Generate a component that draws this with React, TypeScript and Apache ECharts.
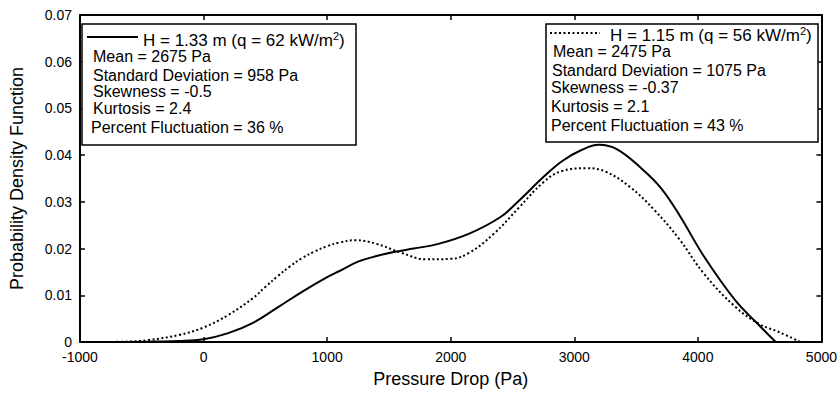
import React, { useEffect, useRef } from "react";
import * as echarts from "echarts";

// H = 1.33 m (solid)
const solidX = [-600, -400, -200, 0, 200, 400, 600, 800, 1000, 1100, 1250, 1400, 1550, 1700, 1900, 2150, 2400, 2550, 2750, 2900, 3050, 3200, 3350, 3550, 3700, 3850, 4050, 4300, 4480, 4630];
const solidY = [0, 0.0001, 0.0002, 0.0006, 0.0019, 0.0041, 0.0074, 0.0108, 0.0139, 0.0152, 0.0172, 0.0184, 0.0193, 0.02, 0.021, 0.0232, 0.0267, 0.0302, 0.0353, 0.0387, 0.041, 0.0422, 0.0412, 0.037, 0.033, 0.0272, 0.0183, 0.009, 0.004, 0];

// H = 1.15 m (dotted)
const dottedX = [-850, -600, -450, -200, 0, 200, 400, 500, 600, 700, 800, 900, 1000, 1100, 1230, 1400, 1600, 1800, 2000, 2150, 2350, 2550, 2750, 2900, 3100, 3250, 3450, 3650, 3850, 4050, 4300, 4500, 4650, 4830];
const dottedY = [0, 0.0001, 0.0004, 0.0015, 0.0031, 0.0058, 0.0094, 0.0118, 0.0141, 0.0162, 0.018, 0.0194, 0.0205, 0.0213, 0.0218, 0.021, 0.0191, 0.0177, 0.0178, 0.0191, 0.0232, 0.0287, 0.0342, 0.0366, 0.0372, 0.0365, 0.0332, 0.0282, 0.022, 0.0146, 0.0076, 0.0038, 0.0022, 0];

const legend1Lines = ["Mean = 2675 Pa", "Standard Deviation = 958 Pa", "Skewness = -0.5", "Kurtosis = 2.4", "Percent Fluctuation = 36 %"];
const legend2Lines = ["Mean = 2475 Pa", "Standard Deviation = 1075 Pa", "Skewness = -0.37", "Kurtosis = 2.1", "Percent Fluctuation = 43 %"];

const FONT = "'Liberation Sans', Arial, Helvetica, sans-serif";

export default function App() {
  const ref = useRef<HTMLDivElement>(null);
  useEffect(() => {
    if (!ref.current) return;
    const chart = echarts.init(ref.current, undefined, { renderer: "svg" });
    const axisLine = { show: true, onZero: false, lineStyle: { color: "#000", width: 2 } };
    const tick = { show: true, inside: true, length: 5, lineStyle: { color: "#000", width: 1.5 } };
    const textStyle = { fontFamily: FONT, fontSize: 16, color: "#000" };

    const l1Y = [56, 75, 91, 108, 127];
    const l1X = [93, 93, 93, 93, 91];
    const l2Y = [51, 70, 87, 106, 125];
    const l2X = [553, 552, 551, 551, 551];

    const graphics: any[] = [
      { type: "rect", shape: { x: 82, y: 24, width: 274, height: 121 }, style: { fill: "#fff", stroke: "#000", lineWidth: 1.5 }, z: 10 },
      { type: "rect", shape: { x: 546, y: 24, width: 272, height: 118 }, style: { fill: "#fff", stroke: "#000", lineWidth: 1.5 }, z: 10 },
      { type: "line", shape: { x1: 87, y1: 37, x2: 138, y2: 37 }, style: { stroke: "#000", lineWidth: 2 }, z: 11 },
      { type: "line", shape: { x1: 550, y1: 33, x2: 600, y2: 33 }, style: { stroke: "#000", lineWidth: 2, lineDash: [2, 2.5] }, z: 11 },
      {
        type: "text", x: 143, y: 40, z: 11,
        style: {
          text: "H = 1.33 m (q = 62 kW/m{sup|2})", fill: "#000", font: `17px ${FONT}`, verticalAlign: "middle",
          rich: { sup: { fontSize: 11, fontFamily: FONT, verticalAlign: "top", padding: [0, 0, 8, 0] } },
        },
      },
      {
        type: "text", x: 610, y: 35, z: 11,
        style: {
          text: "H = 1.15 m (q = 56 kW/m{sup|2})", fill: "#000", font: `17px ${FONT}`, verticalAlign: "middle",
          rich: { sup: { fontSize: 11, fontFamily: FONT, verticalAlign: "top", padding: [0, 0, 8, 0] } },
        },
      },
    ];
    legend1Lines.forEach((t, i) => {
      graphics.push({ type: "text", x: l1X[i], y: l1Y[i], z: 11, style: { text: t, fill: "#000", font: `16px ${FONT}`, verticalAlign: "middle" } });
    });
    legend2Lines.forEach((t, i) => {
      graphics.push({ type: "text", x: l2X[i], y: l2Y[i], z: 11, style: { text: t, fill: "#000", font: `16px ${FONT}`, verticalAlign: "middle" } });
    });

    chart.setOption({
      animation: false,
      backgroundColor: "#fff",
      grid: { left: 80, right: 15, top: 15, bottom: 54, containLabel: false },
      xAxis: [
        {
          type: "value", min: -1000, max: 5000, interval: 1000, position: "bottom",
          axisLine, axisTick: tick, splitLine: { show: false },
          axisLabel: { color: "#000", fontFamily: FONT, fontSize: 14, margin: 8, formatter: (v: number) => String(v) },
          name: "Pressure Drop (Pa)", nameLocation: "middle", nameGap: 28,
          nameTextStyle: { ...textStyle, fontSize: 18 },
        },
        {
          type: "value", min: -1000, max: 5000, interval: 1000, position: "top",
          axisLine, axisTick: tick, splitLine: { show: false }, axisLabel: { show: false },
        },
      ],
      yAxis: [
        {
          type: "value", min: 0, max: 0.07, interval: 0.01, position: "left",
          axisLine, axisTick: tick, splitLine: { show: false },
          axisLabel: {
            color: "#000", fontFamily: FONT, fontSize: 14, margin: 8,
            formatter: (v: number) => (v === 0 ? "0" : v.toFixed(2)),
          },
          name: "Probability Density Function", nameLocation: "middle", nameGap: 54,
          nameTextStyle: { ...textStyle, fontSize: 18 },
        },
        {
          type: "value", min: 0, max: 0.07, interval: 0.01, position: "right",
          axisLine, axisTick: tick, splitLine: { show: false }, axisLabel: { show: false },
        },
      ],
      series: [
        {
          type: "line", name: "H = 1.33 m", xAxisIndex: 0, yAxisIndex: 0,
          data: solidX.map((x, i) => [x, solidY[i]]),
          smooth: 0.4, symbol: "none",
          lineStyle: { color: "#000", width: 2 },
        },
        {
          type: "line", name: "H = 1.15 m", xAxisIndex: 0, yAxisIndex: 0,
          data: dottedX.map((x, i) => [x, dottedY[i]]),
          smooth: 0.4, symbol: "none",
          lineStyle: { color: "#000", width: 2, type: [2, 2.5] },
        },
      ],
      graphic: graphics,
    });
    return () => chart.dispose();
  }, []);
  return <div ref={ref} style={{ position: "absolute", left: 0, top: 0, width: 840, height: 396 }} />;
}
